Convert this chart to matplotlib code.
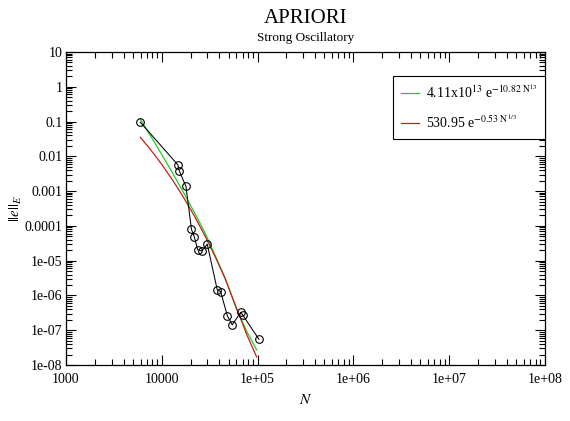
import matplotlib
matplotlib.use("Agg")
import matplotlib.pyplot as plt
from matplotlib.ticker import LogLocator, NullFormatter

plt.rcParams['font.family'] = ['Liberation Serif', 'DejaVu Serif']
plt.rcParams['mathtext.fontset'] = 'stix'

# measured error vs N
N_data = [5970, 14760, 15240, 17900, 20430, 21840, 23750, 26280, 29860,
          37960, 41200, 48280, 54430, 66790, 70400, 103400]
err_data = [0.0955, 5.66e-3, 3.8e-3, 1.36e-3, 7.9e-5, 4.9e-5, 2.04e-5, 1.91e-5, 2.98e-5,
            1.45e-6, 1.29e-6, 2.64e-7, 1.43e-7, 3.27e-7, 2.68e-7, 5.5e-8]

# fitted curves
N_fit = [5970, 8000, 10000, 13000, 17000, 22000, 28000, 36000, 46000, 60000, 78000, 98000]
fit_green = [0.1156, 0.0315, 0.0113, 3.27e-3, 8.75e-4, 2.37e-4, 6.68e-5, 1.45e-5,
             3.1e-6, 4.2e-7, 8.8e-8, 2.7e-8]
fit_red = [0.0354, 0.0132, 5.84e-3, 2.06e-3, 6.40e-4, 1.88e-4, 5.43e-5, 1.33e-5,
           3.0e-6, 4.5e-7, 7.0e-8, 1.7e-8]

xticks = [1e3, 1e4, 1e5, 1e6, 1e7, 1e8]
xlabels = ["1000", "10000", "1e+05", "1e+06", "1e+07", "1e+08"]
yticks = [1e1, 1e0, 1e-1, 1e-2, 1e-3, 1e-4, 1e-5, 1e-6, 1e-7, 1e-8]
ylabels = ["10", "1", "0.1", "0.01", "0.001", "0.0001", "1e-05", "1e-06", "1e-07", "1e-08"]

fig = plt.figure(figsize=(5.7, 4.21), dpi=100)
ax = fig.add_axes([0.1158, 0.133, 0.840, 0.7435])

ax.plot(N_fit, fit_green, color='#22cc22', lw=0.9,
        label=r'4.11x10$^{13}$ e$^{-10.82\ \mathrm{N}^{13}}$')
ax.plot(N_fit, fit_red, color='#c02020', lw=0.9,
        label=r'530.95 e$^{-0.53\ \mathrm{N}^{1/3}}$')
ax.plot(N_data, err_data, color='black', lw=0.75, marker='o', ms=5.5,
        mfc='none', mec='black', mew=0.8)

ax.set_xscale('log')
ax.set_yscale('log')
ax.set_xlim(1e3, 1e8)
ax.set_ylim(1e-8, 1e1)
ax.set_xticks(xticks, xlabels)
ax.set_yticks(yticks, ylabels)
ax.xaxis.set_minor_locator(LogLocator(base=10, subs=range(2, 10), numticks=20))
ax.yaxis.set_minor_locator(LogLocator(base=10, subs=range(2, 10), numticks=20))
ax.xaxis.set_minor_formatter(NullFormatter())
ax.yaxis.set_minor_formatter(NullFormatter())
ax.tick_params(which='both', direction='in', top=True, right=True, labelsize=10, width=0.8)
ax.tick_params(which='major', length=7)
ax.tick_params(axis='x', which='major', pad=5.5)
ax.tick_params(axis='y', which='major', pad=2.5)
ax.tick_params(which='minor', length=4)
for s in ax.spines.values():
    s.set_linewidth(0.9)

ax.set_xlabel(r'$N$', fontsize=11)
ax.xaxis.set_label_coords(0.5, -0.09)
ax.set_ylabel(r'$||e||_E$', fontsize=10.5)
ax.yaxis.set_label_coords(-0.088, 0.5)

fig.text(0.536, 0.957, "APRIORI", ha='center', va='center', fontsize=15)
fig.text(0.536, 0.909, "Strong Oscillatory", ha='center', va='center', fontsize=9.5)

leg = ax.legend(loc='upper left', bbox_to_anchor=(0.683, 0.923), fontsize=10,
                fancybox=False, framealpha=1, edgecolor='black', handlelength=1.3,
                handletextpad=0.5, borderpad=0.55, borderaxespad=0, labelspacing=0.9)
leg.get_frame().set_linewidth(0.8)

fig.savefig("out.png", dpi=100)
